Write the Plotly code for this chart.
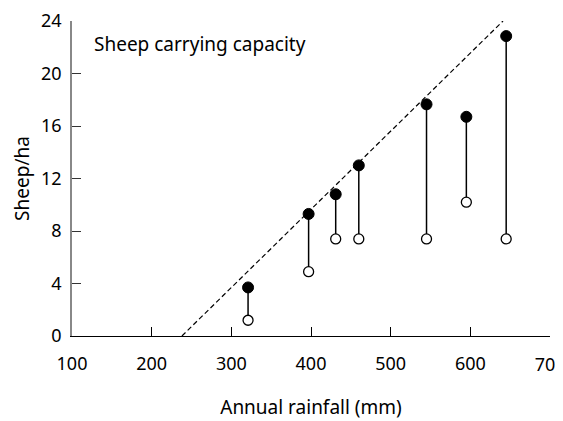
import plotly.graph_objects as go

rainfall = [321, 397, 431, 460, 545, 595, 645]
sheep_potential = [3.7, 9.3, 10.8, 13.0, 17.65, 16.7, 22.85]
sheep_actual = [1.2, 4.9, 7.4, 7.4, 7.4, 10.2, 7.4]
capacity_x = [238, 641]
capacity_y = [0, 24]
x_ticks = [100, 200, 300, 400, 500, 600, 700]
x_ticktext = ["100", "200", "300", "400", "500", "600", ""]
x_last_tick = [700]
x_last_ticktext = ["70"]
y_ticks = [0, 4, 8, 12, 16, 20, 24]

FONT = "Noto Sans"

fig = go.Figure()

# stems
stem_x, stem_y = [], []
for x, a, b in zip(rainfall, sheep_actual, sheep_potential):
    stem_x += [x, x, None]
    stem_y += [a, b, None]
fig.add_trace(go.Scatter(x=stem_x, y=stem_y, mode="lines",
                         line=dict(color="black", width=1.5),
                         hoverinfo="skip", showlegend=False, cliponaxis=False))

fig.add_trace(go.Scatter(x=capacity_x, y=capacity_y, mode="lines",
                         line=dict(color="black", width=1.2, dash="5px,3px"),
                         showlegend=False, cliponaxis=False))

fig.add_trace(go.Scatter(x=rainfall, y=sheep_actual, mode="markers",
                         marker=dict(size=10, color="white",
                                     line=dict(color="black", width=1.3)),
                         showlegend=False, cliponaxis=False))
fig.add_trace(go.Scatter(x=rainfall, y=sheep_potential, mode="markers",
                         marker=dict(size=11, color="black",
                                     line=dict(color="black", width=1)),
                         showlegend=False, cliponaxis=False))

fig.add_annotation(text="Sheep carrying capacity", xref="paper", yref="paper",
                   x=0.042, y=0.927, xanchor="left", yanchor="middle",
                   showarrow=False, font=dict(family=FONT, size=19, color="black"))

fig.update_layout(
    template="none",
    width=555, height=413,
    margin=dict(l=64, r=13, t=13, b=85, autoexpand=False),
    plot_bgcolor="white", paper_bgcolor="white",
    font=dict(family=FONT, size=18, color="black"),
    xaxis=dict(range=[100, 700], tickvals=x_ticks, ticktext=x_ticktext,
               automargin=False,
               ticks="inside", ticklen=9, tickwidth=1, tickcolor="black",
               showline=True, linecolor="black", linewidth=1.3,
               showgrid=False, zeroline=False, ticklabelstandoff=11,
               tickfont=dict(size=18),
               title=dict(text="Annual rainfall (mm)", standoff=26,
                          font=dict(size=19))),
    xaxis2=dict(range=[100, 700], overlaying="x", side="bottom",
                tickvals=x_last_tick, ticktext=x_last_ticktext,
                automargin=False, ticklabeloverflow="allow",
                ticks="", showline=False, showgrid=False, zeroline=False,
                ticklabelstandoff=16, ticklabelshift=-5,
                tickfont=dict(size=18)),
    yaxis=dict(range=[0, 24], tickvals=y_ticks,
               automargin=False,
               ticks="inside", ticklen=9, tickwidth=1, tickcolor="#333",
               showline=True, linecolor="#888", linewidth=1.5,
               showgrid=False, zeroline=False, ticklabelstandoff=5,
               tickfont=dict(size=18),
               title=dict(text="Sheep/ha", standoff=6, font=dict(size=19))),
)

# invisible trace to activate the secondary x-axis carrying the last tick label
fig.add_trace(go.Scatter(x=x_last_tick, y=[0], xaxis="x2", mode="markers",
                         marker=dict(opacity=0), hoverinfo="skip",
                         showlegend=False))

fig.write_html("out.html")
